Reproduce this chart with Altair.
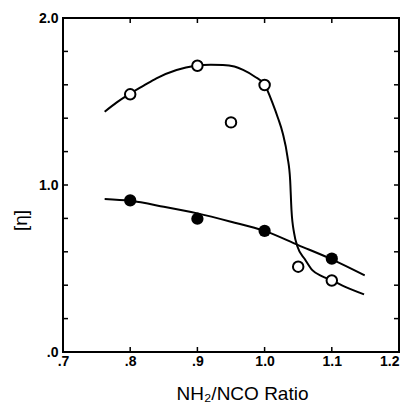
import altair as alt
import pandas as pd

# Measured points
open_x = [0.80, 0.90, 0.95, 1.00, 1.05, 1.10]
open_y = [1.543, 1.714, 1.375, 1.599, 0.511, 0.428]
filled_x = [0.80, 0.90, 1.00, 1.10]
filled_y = [0.908, 0.798, 0.725, 0.559]

# Fitted curves
open_curve_x = [0.762, 0.78, 0.798, 0.82, 0.839, 0.869, 0.897, 0.92, 0.938, 0.955, 0.968,
                0.985, 1.0, 1.012, 1.02, 1.027, 1.034, 1.038, 1.040, 1.044, 1.049, 1.06,
                1.071, 1.085, 1.101, 1.12, 1.148]
open_curve_y = [1.439, 1.495, 1.543, 1.595, 1.639, 1.689, 1.714, 1.72, 1.719, 1.71, 1.689,
                1.65, 1.6, 1.489, 1.40, 1.31, 1.17, 1.03, 0.85, 0.71, 0.63, 0.555,
                0.49, 0.455, 0.427, 0.39, 0.345]
filled_curve_x = [0.762, 0.80, 0.85, 0.90, 0.95, 1.00, 1.05, 1.10, 1.149]
filled_curve_y = [0.916, 0.905, 0.87, 0.83, 0.78, 0.725, 0.64, 0.555, 0.459]

# Axis ticks and labels
x_ticks = [0.8, 0.9, 1.0, 1.1]
y_ticks = [0.2, 0.4, 0.6, 0.8, 1.0, 1.2, 1.4, 1.6, 1.8]
x_label_values = [0.7, 0.8, 0.9, 1.0, 1.1, 1.2]
x_label_texts = [".7", ".8", ".9", "1.0", "1.1", "1.2"]
y_label_values = [0.0, 1.0, 2.0]
y_label_texts = [".0", "1.0", "2.0"]
frame_x = [0.7]
frame_x2 = [1.2]
frame_y = [0.0]
frame_y2 = [2.0]

W, H = 336, 334
FONT = "Liberation Sans"


def label_expr(values, texts):
    expr = "''"
    for v, t in reversed(list(zip(values, texts))):
        expr = f"abs(datum.value - {v}) < 0.001 ? '{t}' : ({expr})"
    return expr


xs = alt.Scale(domain=[0.7, 1.2], nice=False, zero=False)
ys = alt.Scale(domain=[0.0, 2.0], nice=False, zero=False)

x_axis = alt.Axis(values=x_label_values, labelExpr=label_expr(x_label_values, x_label_texts),
                  ticks=False, domain=False, grid=False, labelFont=FONT, labelFontSize=14,
                  labelFontWeight="bold", labelPadding=2, labelColor="black",
                  labelAlign={"condition": {"test": "datum.value > 1.15", "value": "right"},
                              "value": "center"},
                  title="NH₂/NCO  Ratio", titleFont=FONT, titleFontSize=19,
                  titleFontWeight="normal", titleColor="black", titleX=179, titleY=47,
                  titleBaseline="alphabetic", labelFlush=False)
y_axis = alt.Axis(values=y_label_values, labelExpr=label_expr(y_label_values, y_label_texts),
                  ticks=False, domain=False, grid=False, labelFont=FONT, labelFontSize=14,
                  labelFontWeight="bold", labelPadding=5, labelColor="black",
                  title="[η]", titleFont=FONT, titleFontSize=19, titleFontWeight="normal",
                  titleColor="black", titleX=-43, titleY=202, titleBaseline="middle",
                  titleAngle=-90, labelFlush=False)

pts_open = pd.DataFrame({"x": open_x, "y": open_y})
pts_filled = pd.DataFrame({"x": filled_x, "y": filled_y})
cur_open = pd.DataFrame({"x": open_curve_x, "y": open_curve_y})
cur_filled = pd.DataFrame({"x": filled_curve_x, "y": filled_curve_y})
xt = pd.DataFrame({"x": x_ticks})
yt = pd.DataFrame({"y": y_ticks})
frame = pd.DataFrame({"x": frame_x, "x2": frame_x2, "y": frame_y, "y2": frame_y2})

frame_rect = alt.Chart(frame).mark_rect(fill=None, stroke="black", strokeWidth=2).encode(
    x=alt.X("x:Q", scale=xs, axis=x_axis), x2="x2:Q",
    y=alt.Y("y:Q", scale=ys, axis=y_axis), y2="y2:Q")
line_open = alt.Chart(cur_open).mark_line(color="black", strokeWidth=2, interpolate="monotone").encode(
    x=alt.X("x:Q", scale=xs), y=alt.Y("y:Q", scale=ys))
line_filled = alt.Chart(cur_filled).mark_line(color="black", strokeWidth=2, interpolate="monotone").encode(
    x=alt.X("x:Q", scale=xs), y=alt.Y("y:Q", scale=ys))
p_open = alt.Chart(pts_open).mark_point(shape="circle", filled=True, fill="white", stroke="black",
                                        strokeWidth=2, size=110, opacity=1).encode(
    x=alt.X("x:Q", scale=xs), y=alt.Y("y:Q", scale=ys))
p_filled = alt.Chart(pts_filled).mark_point(shape="circle", filled=True, color="black",
                                            size=150, opacity=1).encode(
    x=alt.X("x:Q", scale=xs), y=alt.Y("y:Q", scale=ys))

tick_b = alt.Chart(xt).mark_rule(color="black", strokeWidth=1.5).encode(
    x=alt.X("x:Q", scale=xs), y=alt.value(H), y2=alt.value(H - 5))
tick_t = alt.Chart(xt).mark_rule(color="black", strokeWidth=1.5).encode(
    x=alt.X("x:Q", scale=xs), y=alt.value(0), y2=alt.value(5))
tick_l = alt.Chart(yt).mark_rule(color="black", strokeWidth=1.5).encode(
    y=alt.Y("y:Q", scale=ys), x=alt.value(0), x2=alt.value(5))
tick_r = alt.Chart(yt).mark_rule(color="black", strokeWidth=1.5).encode(
    y=alt.Y("y:Q", scale=ys), x=alt.value(W), x2=alt.value(W - 5))

chart = alt.layer(frame_rect, line_open, line_filled, tick_b, tick_t, tick_l, tick_r,
                  p_open, p_filled).properties(
    width=W, height=H,
    autosize=alt.AutoSizeParams(type="none"),
    padding={"left": 55, "top": 10, "right": 2, "bottom": 50},
).configure_view(stroke=None).configure(background="white")

chart.save("out.html", embed_options={"renderer": "svg", "actions": False})
